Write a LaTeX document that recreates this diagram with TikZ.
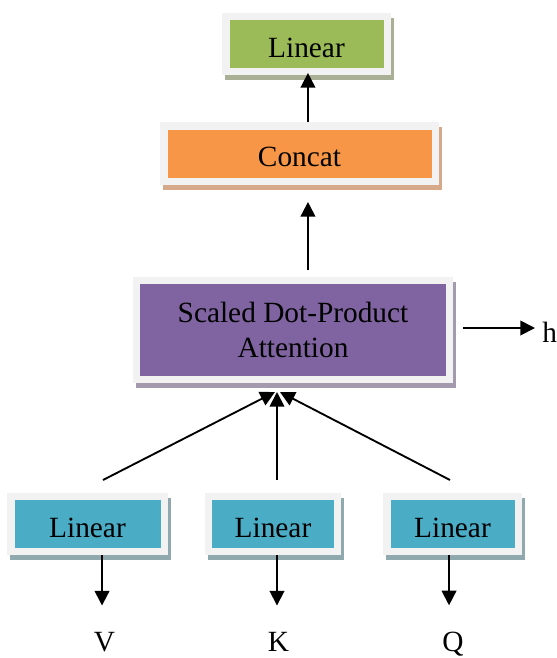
\documentclass[tikz,border=0pt]{standalone}
\usepackage{fontspec}
\setmainfont{Liberation Serif}
\usetikzlibrary{arrows.meta,calc}

\definecolor{framegray}{HTML}{F2F2F2}
\definecolor{lingreen}{HTML}{9BBB59}
\definecolor{lingreenshade}{HTML}{A9B095}
\definecolor{concatorange}{HTML}{F79646}
\definecolor{concatshade}{HTML}{D5A98A}
\definecolor{attnpurple}{HTML}{8064A2}
\definecolor{attnshade}{HTML}{A39AAD}
\definecolor{linblue}{HTML}{4BACC6}
\definecolor{linblueshade}{HTML}{8FA9AF}

\begin{document}
\begin{tikzpicture}[x=0.75pt, y=-0.75pt,
    box/.style 2 args={draw=framegray, fill=#1, line width=5.6pt, inner sep=0pt,
        preaction={draw=#2, fill=#2, transform canvas={shift={(3,5)}}},
        font=\fontsize{22}{26}\selectfont},
    oneline/.style={text height=19.5pt, text depth=0pt},
    arr/.style={-{Triangle[width=11pt,length=11pt]}, line width=1.4pt},
    lbl/.style={inner sep=0pt, font=\fontsize{22}{26}\selectfont}]
        \useasboundingbox (0,0) rectangle (557,658);

        % Output layers
        \node[box={lingreen}{lingreenshade}, oneline, minimum width=121.1pt, minimum height=40.9pt] (top) at (306.5,44) {Linear};
        \node[box={concatorange}{concatshade}, oneline, minimum width=203.6pt, minimum height=41.6pt] (concat) at (299.5,153.5) {Concat};

        % Attention block
        \node[box={attnpurple}{attnshade}, align=center, minimum width=234.4pt, minimum height=73.9pt] (attn) at (293,330) {Scaled Dot-Product\\Attention};
        \node[lbl, anchor=west] (h) at (542,332) {h};

        % Input projections
        \node[box={linblue}{linblueshade}, oneline, minimum width=115.1pt, minimum height=40.9pt] (lin1) at (87.5,524) {Linear};
        \node[box={linblue}{linblueshade}, oneline, minimum width=96.4pt, minimum height=40.9pt] (lin2) at (273,524) {Linear};
        \node[box={linblue}{linblueshade}, oneline, minimum width=98.6pt, minimum height=40.9pt] (lin3) at (452.5,524) {Linear};

        % Inputs
        \node[lbl, anchor=base] (v) at (104.5,651) {V};
        \node[lbl, anchor=base] (k) at (278.5,651) {K};
        \node[lbl, anchor=base] (q) at (453,651) {Q};

        % Arrows
        \draw[arr, shorten >=-1.5pt] ([xshift=1.1pt]top.south |- concat.north) -- ([xshift=1.1pt]top.south);
        \draw[arr, shorten <=5.25pt, shorten >=12.75pt] ([xshift=1.1pt]top.south |- attn.north) -- ([xshift=1.1pt]top.south |- concat.south);
        \draw[arr, shorten <=7.5pt, shorten >=5.25pt] ([yshift=1.5pt]attn.east) -- ([yshift=3pt]h.west);

        \draw[arr] ($(lin1.north)+(15.5,-13)$) -- ($(attn.south)+(-18,9)$);
        \draw[arr] ($(lin2.north)+(4,-13)$) -- ($(attn.south)+(-16,9)$);
        \draw[arr] ($(lin3.north)+(-2.5,-13)$) -- ($(attn.south)+(-13,9)$);

        \draw[arr, shorten >=19.5pt] ([xshift=10.9pt]lin1.south) -- ([xshift=10.9pt]lin1.south |- v.north);
        \draw[arr, shorten >=19.5pt] ([xshift=3pt]lin2.south) -- ([xshift=3pt]lin2.south |- k.north);
        \draw[arr, shorten >=19.5pt] ([xshift=-2.6pt]lin3.south) -- ([xshift=-2.6pt]lin3.south |- q.north);
\end{tikzpicture}
\end{document}
